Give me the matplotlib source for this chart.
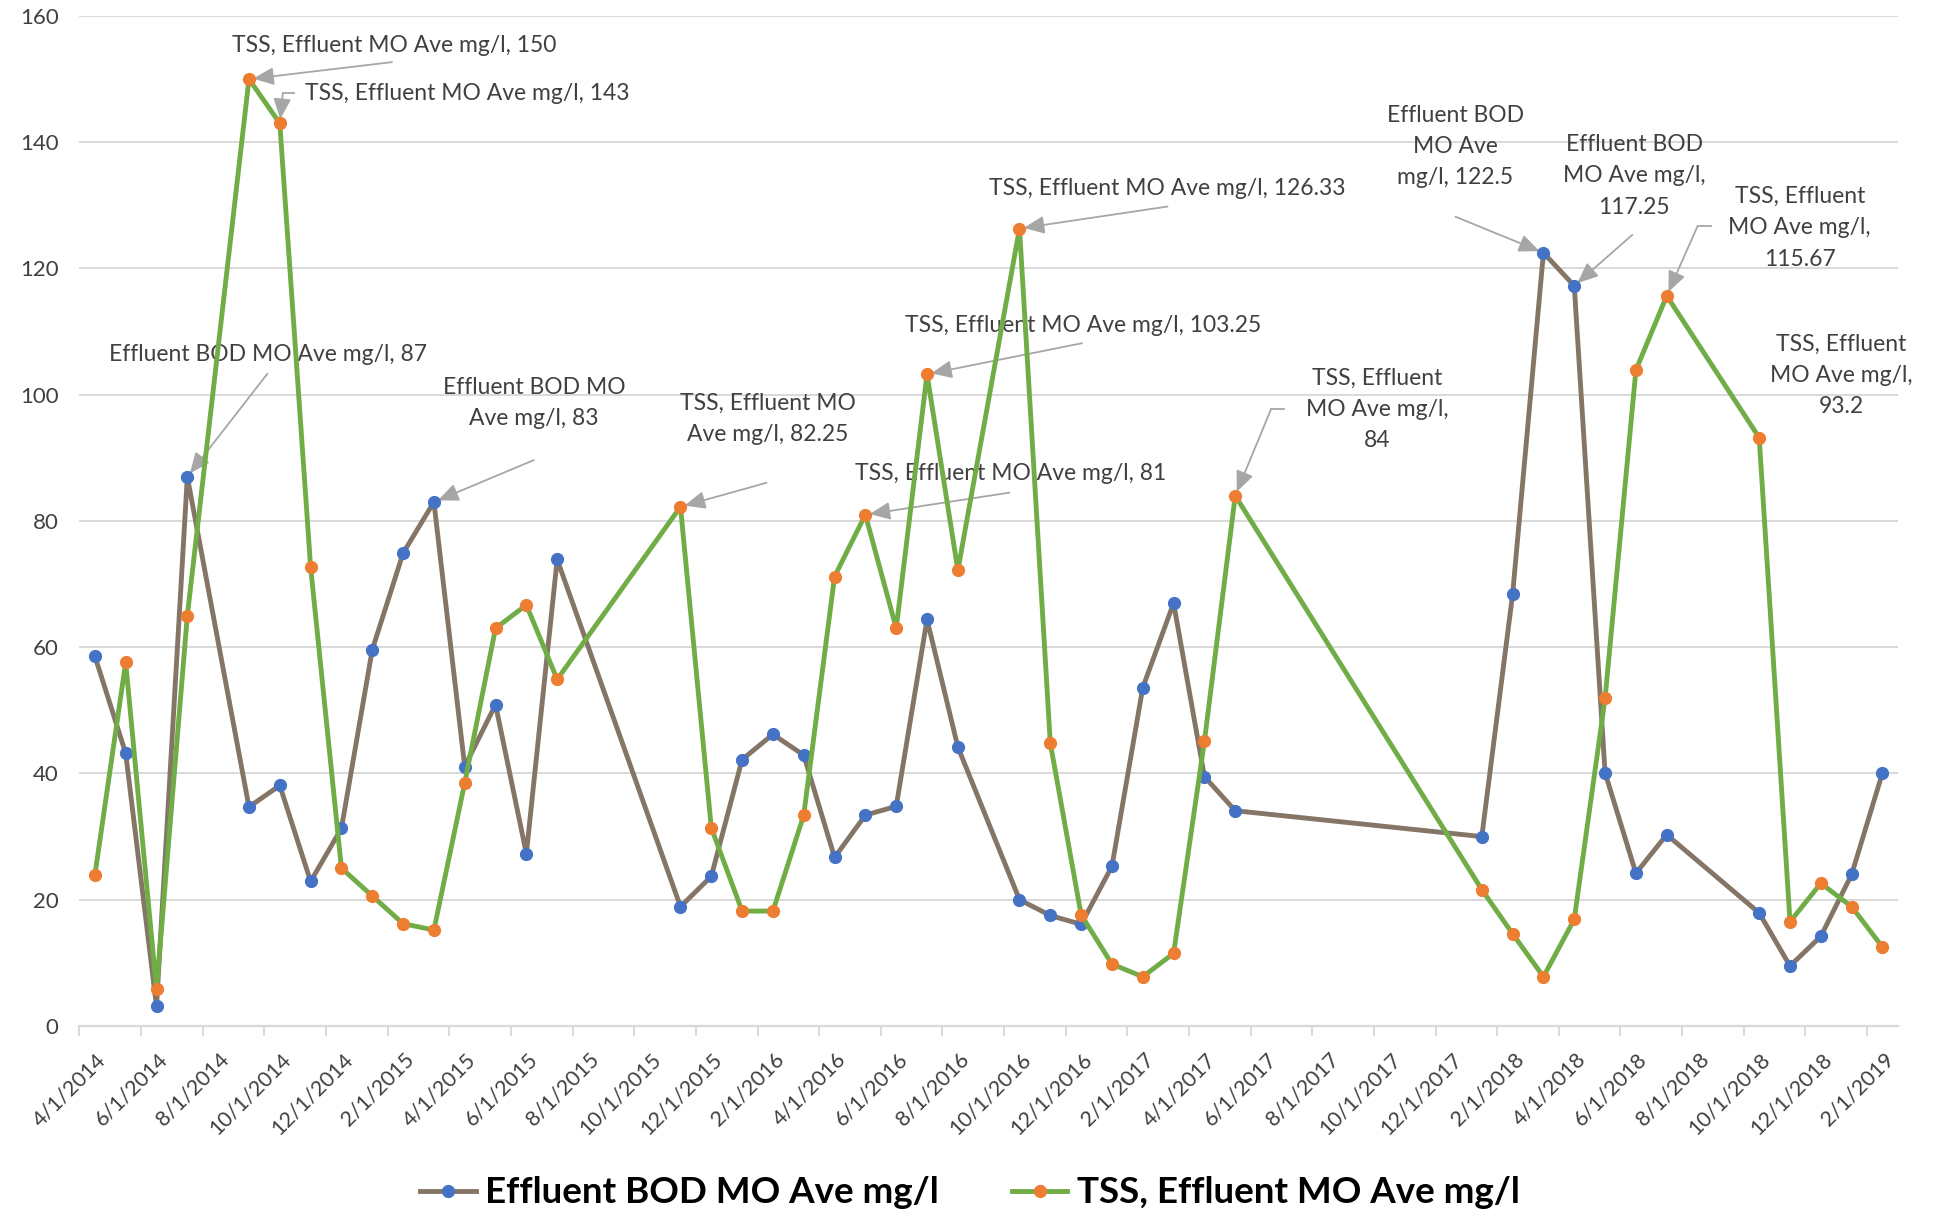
import matplotlib
matplotlib.use("Agg")
import matplotlib.pyplot as plt
import matplotlib.transforms as mtransforms
import pandas as pd

plt.rcParams['font.family'] = ['Lato', 'DejaVu Sans']

# monthly averages (one value per reported month)
dates = ['2014-04', '2014-05', '2014-06', '2014-07', '2014-09', '2014-10', '2014-11',
         '2014-12', '2015-01', '2015-02', '2015-03', '2015-04', '2015-05', '2015-06',
         '2015-07', '2015-11', '2015-12', '2016-01', '2016-02', '2016-03', '2016-04',
         '2016-05', '2016-06', '2016-07', '2016-08', '2016-10', '2016-11', '2016-12',
         '2017-01', '2017-02', '2017-03', '2017-04', '2017-05', '2018-01', '2018-02',
         '2018-03', '2018-04', '2018-05', '2018-06', '2018-07', '2018-10', '2018-11',
         '2018-12', '2019-01', '2019-02']
bod = [58.6, 43.2, 3.1, 87, 34.7, 38.1, 22.9, 31.3, 59.6, 74.9, 83, 41.1, 50.9, 27.3,
       73.9, 18.9, 23.7, 42.2, 46.2, 42.9, 26.7, 33.4, 34.8, 64.4, 44.2, 20.0, 17.5, 16.1,
       25.3, 53.6, 67, 39.5, 34.1, 30.0, 68.4, 122.5, 117.25, 40.1, 24.2, 30.3, 17.9, 9.5,
       14.2, 24.0, 40.1]
tss = [23.9, 57.6, 5.8, 65.0, 150, 143, 72.7, 25.0, 20.6, 16.2, 15.2, 38.5, 63.0, 66.7,
       54.9, 82.25, 31.4, 18.2, 18.2, 33.4, 71.2, 81, 63.0, 103.25, 72.2, 126.33, 44.8, 17.6,
       9.8, 7.8, 11.5, 45.1, 84, 21.6, 14.6, 7.8, 16.9, 51.9, 103.9, 115.67, 93.2, 16.5,
       22.6, 18.9, 12.5]
bod_name = 'Effluent BOD MO Ave mg/l'
tss_name = 'TSS, Effluent MO Ave mg/l'

axis_start = pd.Period('2014-04', 'M')
axis_end = pd.Period('2019-02', 'M')

# callouts: (series, date, label text)
callouts = [
    ('tss', '2014-09', 'TSS, Effluent MO Ave mg/l, 150'),
    ('tss', '2014-10', 'TSS, Effluent MO Ave mg/l, 143'),
    ('bod', '2014-07', 'Effluent BOD MO Ave mg/l, 87'),
    ('bod', '2015-03', 'Effluent BOD MO\nAve mg/l, 83'),
    ('tss', '2015-11', 'TSS, Effluent MO\nAve mg/l, 82.25'),
    ('tss', '2016-05', 'TSS, Effluent MO Ave mg/l, 81'),
    ('tss', '2016-07', 'TSS, Effluent MO Ave mg/l, 103.25'),
    ('tss', '2016-10', 'TSS, Effluent MO Ave mg/l, 126.33'),
    ('tss', '2017-05', 'TSS, Effluent\nMO Ave mg/l,\n84'),
    ('bod', '2018-03', 'Effluent BOD\nMO Ave\nmg/l, 122.5'),
    ('bod', '2018-04', 'Effluent BOD\nMO Ave mg/l,\n117.25'),
    ('tss', '2018-07', 'TSS, Effluent\nMO Ave mg/l,\n115.67'),
    ('tss', '2018-10', 'TSS, Effluent\nMO Ave mg/l,\n93.2'),
]
# layout of each callout in pixels from its point: text centre, leader start, elbow
callout_pos = [
    ((145, 34), (143, 17), None),
    ((187, 30), (3, 30), (14, 30)),
    ((81, 122), (80, 103), None),
    ((100, 99), (100, 42), None),
    ((87, 88), (86, 24), None),
    ((145, 41), (144, 22), None),
    ((156, 49), (155, 31), None),
    ((148, 40), (148, 22), None),
    ((142, 86), (36, 87), (49, 87)),
    ((-88, 106), (-88, 36), None),
    ((60, 110), (58, 51), None),
    ((133, 68), (31, 70), (44, 70)),
    ((82, 62), None, None),
]

months = [(pd.Period(d, 'M') - axis_start).n for d in dates]
n_months = (axis_end - axis_start).n

fig = plt.figure(figsize=(19.38, 12.12), dpi=100)
ax = fig.add_axes([0.041, 0.1535, 0.9383, 0.8333])

line_bod, = ax.plot(months, bod, color='#857566', lw=3.5, marker='o', ms=8.5,
                    mfc='#4472C4', mec='#4472C4', zorder=3, label=bod_name)
line_tss, = ax.plot(months, tss, color='#70AD47', lw=3.5, marker='o', ms=8.5,
                    mfc='#ED7D31', mec='#ED7D31', zorder=4, label=tss_name)

ax.set_xlim(-0.5, n_months + 0.5)
ax.set_ylim(0, 160)
ax.set_yticks(range(0, 161, 20))
ax.grid(axis='y', color='#D9D9D9', lw=1.4, zorder=0)
for s in ['top', 'right', 'left']:
    ax.spines[s].set_visible(False)
ax.spines['bottom'].set_color('#D9D9D9')
ax.spines['bottom'].set_linewidth(1.6)

label_months = list(range(0, n_months + 1, 2))
ax.set_xticks(label_months)
ax.set_xticklabels([(axis_start + m).strftime('%-m/1/%Y') for m in label_months],
                   rotation=45, ha='right', va='center', rotation_mode='anchor')
ax.set_xticks([m - 0.5 for m in label_months], minor=True)
ax.tick_params(axis='x', which='major', length=0, pad=22, labelsize=15.5, labelcolor='#404040')
ax.tick_params(axis='x', which='minor', length=7, width=1.4, color='#D9D9D9')
ax.tick_params(axis='y', length=0, pad=15, labelsize=16, labelcolor='#404040')
shift = mtransforms.ScaledTranslation(8 / 100, 0, fig.dpi_scale_trans)
for lbl in ax.get_xticklabels():
    lbl.set_transform(lbl.get_transform() + shift)

series = {'bod': bod, 'tss': tss}
arrow_kw = dict(arrowstyle='-|>,head_length=0.7,head_width=0.3', color='#A6A6A6',
                lw=1.3, shrinkA=0, shrinkB=3, mutation_scale=18)
for (key, d, text), (tpos, start, elbow) in zip(callouts, callout_pos):
    i = dates.index(d)
    pt = (months[i], series[key][i])
    ax.annotate(text, xy=pt, xytext=tpos, textcoords='offset pixels', ha='center',
                va='center', fontsize=16.5, color='#404040', linespacing=1.6, zorder=2)
    if start is not None:
        ax.annotate('', xy=pt, xytext=start, textcoords='offset pixels',
                    arrowprops=arrow_kw, zorder=2)
    if elbow is not None:
        # short horizontal piece of the leader line
        p0 = ax.transData.transform(pt)
        ax.plot([p0[0] + start[0], p0[0] + elbow[0]], [p0[1] + start[1], p0[1] + elbow[1]],
                transform=None, color='#A6A6A6', lw=1.3, zorder=2)

fig.legend(handles=[line_bod, line_tss], loc='center', bbox_to_anchor=(0.5005, 0.0157),
           ncol=2, frameon=False, handlelength=1.5, handletextpad=0.25, columnspacing=2.0,
           prop={'weight': 'bold', 'size': 26.5})

fig.savefig('out.png', dpi=100)
